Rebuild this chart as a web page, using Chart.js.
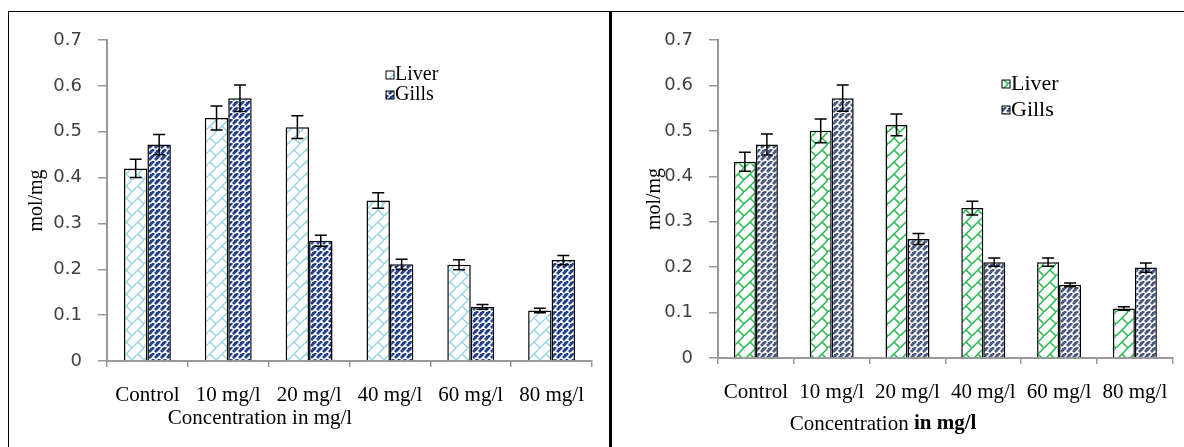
<!DOCTYPE html>
<html>
<head>
<meta charset="utf-8">
<script src="https://cdn.jsdelivr.net/npm/chart.js@4"></script>
<style>
  body { margin: 0; background: #fff; width: 1184px; height: 447px; position: relative; overflow: hidden; }
  canvas { position: absolute; top: 0; }
  .line { position: absolute; background: #000; }
</style>
</head>
<body>
<canvas id="chartA" width="609" height="447" style="left:0"></canvas>
<canvas id="chartB" width="572" height="447" style="left:612px"></canvas>
<div class="line" style="left:8px;top:11px;width:1176px;height:1px"></div>
<div class="line" style="left:8px;top:11px;width:1px;height:436px"></div>
<div class="line" style="left:609px;top:11px;width:3px;height:436px"></div>
<script>
const categories = ['Control', '10 mg/l', '20 mg/l', '40 mg/l', '60 mg/l', '80 mg/l']
const yTicks = [0, 0.1, 0.2, 0.3, 0.4, 0.5, 0.6, 0.7]

// left chart
const liverA = [0.42, 0.53, 0.51, 0.35, 0.21, 0.11]
const liverAErr = [0.02, 0.026, 0.025, 0.017, 0.011, 0.005]
const gillsA = [0.472, 0.573, 0.262, 0.211, 0.118, 0.22]
const gillsAErr = [0.022, 0.029, 0.012, 0.011, 0.005, 0.01]

// right chart
const liverB = [0.432, 0.5, 0.513, 0.33, 0.211, 0.109]
const liverBErr = [0.021, 0.026, 0.024, 0.015, 0.009, 0.004]
const gillsB = [0.47, 0.572, 0.262, 0.211, 0.161, 0.199]
const gillsBErr = [0.023, 0.029, 0.012, 0.009, 0.004, 0.01]

function herringbone(size, bg, fg, lw) {
    const c = document.createElement('canvas')
    c.width = size; c.height = size
    const g = c.getContext('2d')
    g.fillStyle = bg
    g.fillRect(0, 0, size, size)
    g.strokeStyle = fg
    g.lineWidth = lw
    g.beginPath()
    g.moveTo(0, size); g.lineTo(size, 0)
    g.moveTo(size / 2, size / 2); g.lineTo(size, size)
    g.moveTo(0, 0); g.lineTo(size / 2 - size, size / 2 - size)
    g.stroke()
    return g.createPattern(c, 'repeat')
}

const extras = {
    id: 'extras',
    afterDatasetsDraw(chart, args, opts) {
        const ctx = chart.ctx
        const y = chart.scales.y
        ctx.save()
        ctx.strokeStyle = '#000'
        ctx.lineWidth = 1.5
        chart.data.datasets.forEach((ds, i) => {
            chart.getDatasetMeta(i).data.forEach((bar, j) => {
                const t = y.getPixelForValue(ds.data[j] + ds.errors[j])
                const b = y.getPixelForValue(ds.data[j] - ds.errors[j])
                ctx.beginPath()
                ctx.moveTo(bar.x, t); ctx.lineTo(bar.x, b)
                ctx.moveTo(bar.x - 6, t); ctx.lineTo(bar.x + 6, t)
                ctx.moveTo(bar.x - 6, b); ctx.lineTo(bar.x + 6, b)
                ctx.stroke()
            })
        })
        ctx.restore()
    },
    afterDraw(chart, args, opts) {
        const ctx = chart.ctx
        ctx.save()
        // legend
        ctx.font = opts.legendFont + 'px "Liberation Serif"'
        ctx.textBaseline = 'middle'
        chart.data.datasets.forEach((ds, i) => {
            const ly = opts.legendY + i * opts.legendGap
            ctx.fillStyle = ds.backgroundColor
            ctx.fillRect(opts.legendX, ly - 4, 8, 8)
            ctx.strokeStyle = '#000'
            ctx.lineWidth = 1
            ctx.strokeRect(opts.legendX, ly - 4, 8, 8)
            ctx.fillStyle = '#000'
            ctx.fillText(ds.label, opts.legendX + 9, ly)
        })
        // y title
        ctx.save()
        ctx.translate(opts.yTitleX, (chart.chartArea.top + chart.chartArea.bottom) / 2)
        ctx.rotate(-Math.PI / 2)
        ctx.textAlign = 'center'
        ctx.font = '20px "Liberation Serif"'
        ctx.fillText('mol/mg', 0, 0)
        ctx.restore()
        // x title
        let w = 0
        opts.xTitle.forEach(p => {
            ctx.font = (p.bold ? 'bold ' : '') + '21px "Liberation Serif"'
            w += ctx.measureText(p.text).width
        })
        let x = opts.xTitleX - w / 2
        ctx.textAlign = 'left'
        opts.xTitle.forEach(p => {
            ctx.font = (p.bold ? 'bold ' : '') + '21px "Liberation Serif"'
            ctx.fillText(p.text, x, opts.xTitleY)
            x += ctx.measureText(p.text).width
        })
        ctx.restore()
    }
}

function graficar(id, liver, liverErr, gills, gillsErr, liverFill, gillsFill, padRight, xHeight, extraOpts) {
    new Chart(document.getElementById(id), {
        type: 'bar',
        data: {
            labels: categories,
            datasets: [
                { label: 'Liver', data: liver, errors: liverErr, backgroundColor: liverFill, borderColor: '#000', borderWidth: 1.5 },
                { label: 'Gills', data: gills, errors: gillsErr, backgroundColor: gillsFill, borderColor: '#000', borderWidth: 1.5 }
            ]
        },
        options: {
            responsive: false,
            animation: false,
            categoryPercentage: 0.58,
            barPercentage: 1.0,
            layout: { padding: { top: 40, right: padRight, left: 0, bottom: 0 } },
            plugins: { legend: { display: false }, tooltip: { enabled: false }, extras: extraOpts },
            scales: {
                x: {
                    grid: { offset: true, drawOnChartArea: false, tickLength: 6, color: '#999', lineWidth: 1.5 },
                    border: { color: '#999', width: 2 },
                    ticks: { font: { family: 'Liberation Serif', size: 21 }, color: '#000', padding: 16, maxRotation: 0, autoSkip: false },
                    afterFit: s => { s.height = xHeight }
                },
                y: {
                    min: 0, max: 0.7,
                    afterBuildTicks: s => { s.ticks = yTicks.map(v => ({ value: v })) },
                    grid: { drawOnChartArea: false, tickLength: 9, color: '#999', lineWidth: 1.5 },
                    border: { color: '#999', width: 2 },
                    ticks: { font: { family: 'DejaVu Sans', size: 18 }, color: '#404040', padding: 16,
                        callback: v => v === 0 ? '0' : v.toFixed(1) },
                    afterFit: s => { s.width = extraOpts.yWidth }
                }
            }
        },
        plugins: [extras]
    })
}

graficar('chartA', liverA, liverAErr, gillsA, gillsAErr,
    herringbone(12, '#fff', '#8fd2e2', 1.3), herringbone(6, '#23408c', '#fff', 1.5),
    17, 86,
    { yWidth: 107, legendX: 386, legendY: 75, legendGap: 20, legendFont: 20, yTitleX: 37,
      xTitle: [{ text: 'Concentration in mg/l' }], xTitleX: 260, xTitleY: 418 })

graficar('chartB', liverB, liverBErr, gillsB, gillsBErr,
    herringbone(12, '#fff', '#22b84c', 1.5), herringbone(6, '#4a5a80', '#fff', 1.5),
    9, 89,
    { yWidth: 106, legendX: 390, legendY: 84, legendGap: 26, legendFont: 22, yTitleX: 43,
      xTitle: [{ text: 'Concentration ' }, { text: 'in mg/l', bold: true }], xTitleX: 271, xTitleY: 424 })
</script>
</body>
</html>
